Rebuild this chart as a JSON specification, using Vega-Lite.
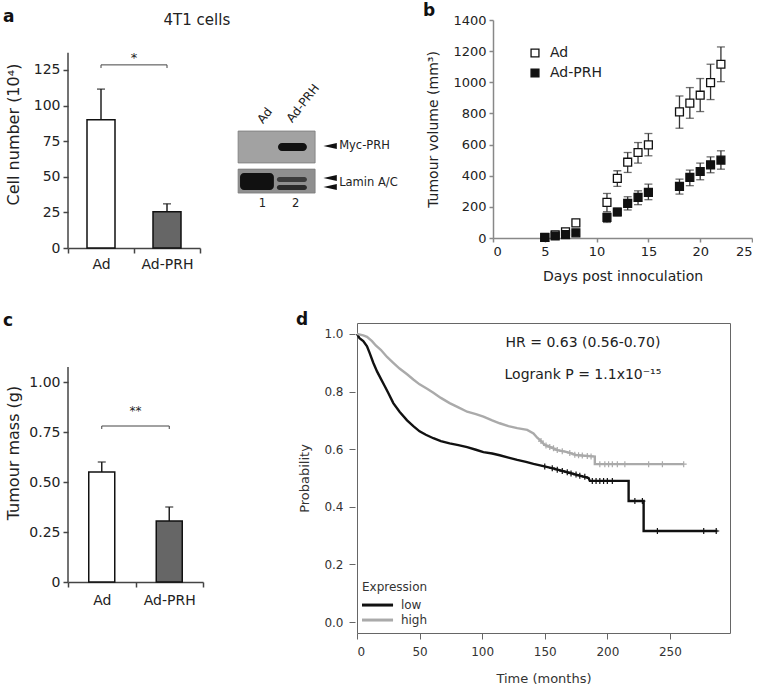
{
  "$schema": "https://vega.github.io/schema/vega-lite/v6.json",
  "background": "white",
  "padding": {"left": 3, "top": 2, "right": 0, "bottom": 0},
  "spacing": 27,
  "resolve": {"scale": {"fill": "independent", "color": "independent"}, "legend": {"fill": "independent", "color": "independent"}},
  "config": {
    "font": "DejaVu Sans",
    "view": {"stroke": null},
    "axis": {"labelFont": "DejaVu Sans", "titleFont": "DejaVu Sans", "labelColor": "#222", "titleColor": "#222", "domainColor": "#444", "tickColor": "#444", "grid": false, "titleFontWeight": "normal", "labelFontSize": 14, "titleFontSize": 16, "domainWidth": 1.5, "tickWidth": 1.5, "labelOverlap": false},
    "legend": {"labelFont": "DejaVu Sans", "titleFont": "DejaVu Sans"},
    "text": {"font": "DejaVu Sans"},
    "title": {"font": "DejaVu Sans"}
  },
  "datasets": {
    "cells": [
      {"group": "Ad", "value": 90, "err": 111.5},
      {"group": "Ad-PRH", "value": 25.5, "err": 31}
    ],
    "mass": [
      {"group": "Ad", "value": 0.55, "err": 0.6},
      {"group": "Ad-PRH", "value": 0.305, "err": 0.375}
    ],
    "volume": [
      {"group": "Ad", "day": 5, "m": 3, "lo": 0, "hi": 8},
      {"group": "Ad", "day": 6, "m": 20, "lo": 12, "hi": 28},
      {"group": "Ad", "day": 7, "m": 40, "lo": 30, "hi": 50},
      {"group": "Ad", "day": 8, "m": 97, "lo": 85, "hi": 109},
      {"group": "Ad", "day": 11, "m": 229, "lo": 169, "hi": 286},
      {"group": "Ad", "day": 12, "m": 383, "lo": 331, "hi": 432},
      {"group": "Ad", "day": 13, "m": 487, "lo": 421, "hi": 549},
      {"group": "Ad", "day": 14, "m": 549, "lo": 481, "hi": 613},
      {"group": "Ad", "day": 15, "m": 598, "lo": 528, "hi": 671},
      {"group": "Ad", "day": 18, "m": 810, "lo": 705, "hi": 912},
      {"group": "Ad", "day": 19, "m": 866, "lo": 769, "hi": 966},
      {"group": "Ad", "day": 20, "m": 917, "lo": 812, "hi": 1024},
      {"group": "Ad", "day": 21, "m": 998, "lo": 889, "hi": 1116},
      {"group": "Ad", "day": 22, "m": 1116, "lo": 1004, "hi": 1227},
      {"group": "Ad-PRH", "day": 5, "m": 4, "lo": 0, "hi": 8},
      {"group": "Ad-PRH", "day": 6, "m": 13, "lo": 5, "hi": 21},
      {"group": "Ad-PRH", "day": 7, "m": 22, "lo": 12, "hi": 32},
      {"group": "Ad-PRH", "day": 8, "m": 33, "lo": 22, "hi": 44},
      {"group": "Ad-PRH", "day": 11, "m": 133, "lo": 100, "hi": 158},
      {"group": "Ad-PRH", "day": 12, "m": 167, "lo": 143, "hi": 192},
      {"group": "Ad-PRH", "day": 13, "m": 222, "lo": 180, "hi": 265},
      {"group": "Ad-PRH", "day": 14, "m": 261, "lo": 214, "hi": 303},
      {"group": "Ad-PRH", "day": 15, "m": 293, "lo": 246, "hi": 346},
      {"group": "Ad-PRH", "day": 18, "m": 331, "lo": 282, "hi": 378},
      {"group": "Ad-PRH", "day": 19, "m": 389, "lo": 336, "hi": 436},
      {"group": "Ad-PRH", "day": 20, "m": 427, "lo": 374, "hi": 481},
      {"group": "Ad-PRH", "day": 21, "m": 470, "lo": 419, "hi": 521},
      {"group": "Ad-PRH", "day": 22, "m": 500, "lo": 442, "hi": 560}
    ],
    "km": [
      {"grp": "low", "t": 0, "p": 1.0}, {"grp": "low", "t": 2, "p": 0.985}, {"grp": "low", "t": 5, "p": 0.975},
      {"grp": "low", "t": 8, "p": 0.957}, {"grp": "low", "t": 10, "p": 0.935}, {"grp": "low", "t": 13, "p": 0.9},
      {"grp": "low", "t": 16, "p": 0.87}, {"grp": "low", "t": 19, "p": 0.845}, {"grp": "low", "t": 22, "p": 0.82},
      {"grp": "low", "t": 25, "p": 0.795}, {"grp": "low", "t": 29, "p": 0.76}, {"grp": "low", "t": 34, "p": 0.73},
      {"grp": "low", "t": 40, "p": 0.7}, {"grp": "low", "t": 45, "p": 0.68}, {"grp": "low", "t": 50, "p": 0.662},
      {"grp": "low", "t": 55, "p": 0.65}, {"grp": "low", "t": 61, "p": 0.638}, {"grp": "low", "t": 67, "p": 0.628},
      {"grp": "low", "t": 74, "p": 0.62}, {"grp": "low", "t": 81, "p": 0.614}, {"grp": "low", "t": 88, "p": 0.607},
      {"grp": "low", "t": 95, "p": 0.598}, {"grp": "low", "t": 101, "p": 0.59}, {"grp": "low", "t": 108, "p": 0.585},
      {"grp": "low", "t": 114, "p": 0.579}, {"grp": "low", "t": 121, "p": 0.571}, {"grp": "low", "t": 128, "p": 0.563},
      {"grp": "low", "t": 135, "p": 0.556}, {"grp": "low", "t": 141, "p": 0.549}, {"grp": "low", "t": 148, "p": 0.542},
      {"grp": "low", "t": 154, "p": 0.536}, {"grp": "low", "t": 161, "p": 0.528}, {"grp": "low", "t": 168, "p": 0.52},
      {"grp": "low", "t": 175, "p": 0.512}, {"grp": "low", "t": 181, "p": 0.505}, {"grp": "low", "t": 185, "p": 0.5},
      {"grp": "low", "t": 186, "p": 0.49}, {"grp": "low", "t": 217, "p": 0.49}, {"grp": "low", "t": 217.01, "p": 0.42},
      {"grp": "low", "t": 229, "p": 0.42}, {"grp": "low", "t": 229.01, "p": 0.316}, {"grp": "low", "t": 288, "p": 0.316},
      {"grp": "high", "t": 0, "p": 1.0}, {"grp": "high", "t": 5, "p": 0.995}, {"grp": "high", "t": 8, "p": 0.99},
      {"grp": "high", "t": 12, "p": 0.975}, {"grp": "high", "t": 15, "p": 0.96}, {"grp": "high", "t": 19, "p": 0.945},
      {"grp": "high", "t": 24, "p": 0.92}, {"grp": "high", "t": 29, "p": 0.9}, {"grp": "high", "t": 34, "p": 0.88},
      {"grp": "high", "t": 40, "p": 0.86}, {"grp": "high", "t": 45, "p": 0.842}, {"grp": "high", "t": 50, "p": 0.825},
      {"grp": "high", "t": 56, "p": 0.81}, {"grp": "high", "t": 61, "p": 0.796}, {"grp": "high", "t": 67, "p": 0.778},
      {"grp": "high", "t": 74, "p": 0.76}, {"grp": "high", "t": 81, "p": 0.745}, {"grp": "high", "t": 88, "p": 0.73},
      {"grp": "high", "t": 95, "p": 0.722}, {"grp": "high", "t": 101, "p": 0.713}, {"grp": "high", "t": 108, "p": 0.7},
      {"grp": "high", "t": 114, "p": 0.69}, {"grp": "high", "t": 121, "p": 0.68}, {"grp": "high", "t": 128, "p": 0.673},
      {"grp": "high", "t": 136, "p": 0.667}, {"grp": "high", "t": 141, "p": 0.655}, {"grp": "high", "t": 144, "p": 0.64},
      {"grp": "high", "t": 146, "p": 0.632}, {"grp": "high", "t": 150, "p": 0.615}, {"grp": "high", "t": 155, "p": 0.606},
      {"grp": "high", "t": 160, "p": 0.597}, {"grp": "high", "t": 168, "p": 0.59}, {"grp": "high", "t": 175, "p": 0.58},
      {"grp": "high", "t": 190, "p": 0.574}, {"grp": "high", "t": 190.01, "p": 0.548}, {"grp": "high", "t": 261, "p": 0.548}
    ],
    "censor": [
      {"grp": "low", "t": 150, "p": 0.54}, {"grp": "low", "t": 156, "p": 0.534}, {"grp": "low", "t": 160, "p": 0.529},
      {"grp": "low", "t": 164, "p": 0.524}, {"grp": "low", "t": 168, "p": 0.52}, {"grp": "low", "t": 171, "p": 0.516},
      {"grp": "low", "t": 175, "p": 0.512}, {"grp": "low", "t": 178, "p": 0.508}, {"grp": "low", "t": 182, "p": 0.504},
      {"grp": "low", "t": 188, "p": 0.49}, {"grp": "low", "t": 191, "p": 0.49}, {"grp": "low", "t": 194, "p": 0.49},
      {"grp": "low", "t": 197, "p": 0.49}, {"grp": "low", "t": 200, "p": 0.49}, {"grp": "low", "t": 204, "p": 0.49},
      {"grp": "low", "t": 222, "p": 0.42}, {"grp": "low", "t": 228, "p": 0.42}, {"grp": "low", "t": 240, "p": 0.316},
      {"grp": "low", "t": 277, "p": 0.316}, {"grp": "low", "t": 287, "p": 0.316},
      {"grp": "high", "t": 147, "p": 0.628}, {"grp": "high", "t": 151, "p": 0.613}, {"grp": "high", "t": 154, "p": 0.608},
      {"grp": "high", "t": 157, "p": 0.603}, {"grp": "high", "t": 160, "p": 0.597}, {"grp": "high", "t": 164, "p": 0.593},
      {"grp": "high", "t": 170, "p": 0.587}, {"grp": "high", "t": 174, "p": 0.581}, {"grp": "high", "t": 177, "p": 0.579},
      {"grp": "high", "t": 180, "p": 0.578}, {"grp": "high", "t": 184, "p": 0.576}, {"grp": "high", "t": 187, "p": 0.575},
      {"grp": "high", "t": 194, "p": 0.548}, {"grp": "high", "t": 198, "p": 0.548}, {"grp": "high", "t": 201, "p": 0.548},
      {"grp": "high", "t": 204, "p": 0.548}, {"grp": "high", "t": 208, "p": 0.548}, {"grp": "high", "t": 214, "p": 0.548},
      {"grp": "high", "t": 233, "p": 0.548}, {"grp": "high", "t": 244, "p": 0.548}, {"grp": "high", "t": 261, "p": 0.548}
    ],
    "blot": [
      {"part": "membrane top", "x": 10.3, "x2": 38.5, "y": 37.3, "y2": 51.3},
      {"part": "membrane bottom", "x": 10.3, "x2": 38.5, "y": 24.1, "y2": 34.6}
    ],
    "bands": [
      {"part": "Myc-PRH lane 2", "x": 24.9, "x2": 35.5, "y": 42.5, "y2": 46.1, "tone": "strong"},
      {"part": "Lamin lane 1", "x": 11.0, "x2": 23.4, "y": 25.4, "y2": 32.9, "tone": "strong"},
      {"part": "Lamin A lane 2", "x": 24.5, "x2": 35.5, "y": 28.9, "y2": 31.1, "tone": "weak"},
      {"part": "Lamin C lane 2", "x": 24.5, "x2": 35.5, "y": 25.4, "y2": 27.6, "tone": "medium"}
    ],
    "blotlabels": [
      {"label": "1", "x": 17.9, "y": 19.3},
      {"label": "2", "x": 30.0, "y": 19.3},
      {"label": "Myc-PRH", "x": 47.3, "y": 44.7},
      {"label": "Lamin A/C", "x": 47.3, "y": 28.5}
    ],
    "arrows": [
      {"target": "Myc-PRH", "x": 44.0, "y": 44.7},
      {"target": "Lamin A", "x": 44.0, "y": 30.7},
      {"target": "Lamin C", "x": 44.0, "y": 26.8}
    ],
    "lanes": [
      {"label": "Ad", "x": 20.3, "y": 53.5},
      {"label": "Ad-PRH", "x": 31.0, "y": 53.9}
    ],
    "kmlegend": [
      {"grp": "low", "p": 0.059},
      {"grp": "high", "p": 0.007}
    ]
  },
  "vconcat": [
    {
      "bounds": "flush",
      "spacing": 10,
      "resolve": {"scale": {"fill": "independent", "color": "independent"}, "legend": {"fill": "independent", "color": "independent"}},
      "hconcat": [
        {
          "width": 132,
          "height": 228,
          "title": {"text": "a", "anchor": "start", "frame": "group", "dx": -65, "offset": -19, "fontSize": 17, "fontWeight": "bold", "baseline": "alphabetic", "color": "#111"},
          "data": {"name": "cells"},
          "layer": [
            {
              "mark": {"type": "rule", "strokeWidth": 1.5, "color": "#222"},
              "encoding": {
                "x": {"field": "group", "type": "nominal", "scale": {"domain": ["Ad", "Ad-PRH"], "paddingInner": 0, "paddingOuter": 0}, "axis": {"title": null, "labelAngle": 0, "tickBand": "extent", "tickSize": 5, "labelPadding": 4, "labelFontSize": 14}},
                "y": {"field": "value", "type": "quantitative", "scale": {"domain": [0, 160], "nice": false}, "axis": {"values": [0, 25, 50, 75, 100, 125], "domain": false, "tickSize": 5, "labelPadding": 3, "title": "Cell number (10⁴)", "titleFontSize": 16, "titlePadding": 12}},
                "y2": {"field": "err"}
              }
            },
            {
              "mark": {"type": "bar", "size": 28, "stroke": "#111", "strokeWidth": 1.5},
              "encoding": {
                "x": {"field": "group", "type": "nominal"},
                "y": {"field": "value", "type": "quantitative"},
                "fill": {"field": "group", "type": "nominal", "scale": {"domain": ["Ad", "Ad-PRH"], "range": ["#ffffff", "#666666"]}, "legend": null}
              }
            },
            {
              "mark": {"type": "tick", "orient": "horizontal", "size": 8, "thickness": 1.5, "color": "#222"},
              "encoding": {
                "x": {"field": "group", "type": "nominal"},
                "y": {"field": "err", "type": "quantitative"}
              }
            },
            {
              "data": {"values": [{}]},
              "mark": {"type": "rule", "color": "#444", "strokeWidth": 1.5},
              "encoding": {
                "x": {"datum": "Ad", "bandPosition": 0},
                "y": {"datum": 0},
                "y2": {"datum": 137}
              }
            },
            {
              "data": {"values": [{}]},
              "mark": {"type": "rule", "color": "#444", "strokeWidth": 1},
              "encoding": {
                "x": {"datum": "Ad"},
                "x2": {"datum": "Ad-PRH"},
                "y": {"datum": 128.5}
              }
            },
            {
              "data": {"values": [{"g": "Ad"}, {"g": "Ad-PRH"}]},
              "mark": {"type": "rule", "color": "#444", "strokeWidth": 1},
              "encoding": {
                "x": {"field": "g", "type": "nominal"},
                "y": {"datum": 126.3},
                "y2": {"datum": 128.5}
              }
            },
            {
              "data": {"values": [{}]},
              "mark": {"type": "text", "text": "*", "fontSize": 13, "color": "#222"},
              "encoding": {
                "x": {"datum": "Ad", "bandPosition": 1},
                "y": {"datum": 133}
              }
            }
          ]
        },
        {
          "width": 273,
          "height": 228,
          "layer": [
            {
              "data": {"name": "blot"},
              "mark": {"type": "rect", "stroke": "#7a7a7a", "strokeWidth": 0.8},
              "encoding": {
                "x": {"field": "x", "type": "quantitative", "scale": {"domain": [0, 100], "nice": false}, "axis": null},
                "x2": {"field": "x2"},
                "y": {"field": "y", "type": "quantitative", "scale": {"domain": [0, 100], "nice": false}, "axis": null},
                "y2": {"field": "y2"},
                "fill": {"field": "part", "type": "nominal", "scale": {"domain": ["membrane top", "membrane bottom"], "range": ["#a2a2a2", "#8f8f8f"]}, "legend": null}
              }
            },
            {
              "data": {"name": "bands"},
              "mark": {"type": "rect", "cornerRadius": 4},
              "encoding": {
                "x": {"field": "x", "type": "quantitative"},
                "x2": {"field": "x2"},
                "y": {"field": "y", "type": "quantitative"},
                "y2": {"field": "y2"},
                "color": {"field": "tone", "type": "nominal", "scale": {"domain": ["strong", "medium", "weak"], "range": ["#111111", "#2a2a2a", "#3c3c3c"]}, "legend": null}
              }
            },
            {
              "data": {"name": "blotlabels"},
              "mark": {"type": "text", "fontSize": 11.5, "align": "left", "baseline": "middle", "color": "#222"},
              "encoding": {
                "x": {"field": "x", "type": "quantitative"},
                "y": {"field": "y", "type": "quantitative"},
                "text": {"field": "label"}
              }
            },
            {
              "data": {"name": "lanes"},
              "mark": {"type": "text", "fontSize": 12, "align": "left", "baseline": "bottom", "angle": 308, "color": "#222"},
              "encoding": {
                "x": {"field": "x", "type": "quantitative"},
                "y": {"field": "y", "type": "quantitative"},
                "text": {"field": "label"}
              }
            },
            {
              "data": {"name": "arrows"},
              "mark": {"type": "point", "shape": "M-1,0L1,-0.45L1,0.45Z", "filled": true, "color": "#111", "size": 180, "opacity": 1},
              "encoding": {
                "x": {"field": "x", "type": "quantitative"},
                "y": {"field": "y", "type": "quantitative"}
              }
            },
            {
              "data": {"values": [{}]},
              "mark": {"type": "text", "text": "4T1 cells", "fontSize": 15, "align": "center", "baseline": "middle", "color": "#222"},
              "encoding": {
                "x": {"datum": -4.8},
                "y": {"datum": 100}
              }
            }
          ]
        },
        {
          "width": 259,
          "height": 218,
          "title": {"text": "b", "anchor": "start", "frame": "group", "dx": -70, "offset": -19, "fontSize": 17, "fontWeight": "bold", "baseline": "alphabetic", "color": "#111"},
          "data": {"name": "volume"},
          "encoding": {
            "x": {"field": "day", "type": "quantitative", "scale": {"domain": [0, 25], "nice": false}, "axis": {"values": [0, 5, 10, 15, 20, 25], "title": "Days post innoculation", "titleFontSize": 14, "labelFontSize": 13, "tickSize": 4, "labelPadding": 3, "titlePadding": 11, "domainColor": "#888", "tickColor": "#888", "labelOverlap": false}}
          },
          "layer": [
            {
              "mark": {"type": "rule", "color": "#333", "strokeWidth": 1.3},
              "encoding": {
                "y": {"field": "lo", "type": "quantitative", "scale": {"domain": [0, 1400], "nice": false}, "axis": {"values": [0, 200, 400, 600, 800, 1000, 1200, 1400], "format": "d", "title": "Tumour volume (mm³)", "titleFontSize": 14, "labelFontSize": 13, "tickSize": 4, "labelPadding": 3, "titlePadding": 12, "domainColor": "#888", "tickColor": "#888", "labelOverlap": false}},
                "y2": {"field": "hi"}
              }
            },
            {
              "mark": {"type": "tick", "orient": "horizontal", "size": 8, "thickness": 1.3, "color": "#333"},
              "encoding": {
                "y": {"field": "hi", "type": "quantitative", "axis": {"values": [0, 200, 400, 600, 800, 1000, 1200, 1400], "format": "d", "title": "Tumour volume (mm³)", "labelOverlap": false}}
              }
            },
            {
              "mark": {"type": "tick", "orient": "horizontal", "size": 8, "thickness": 1.3, "color": "#333"},
              "encoding": {
                "y": {"field": "lo", "type": "quantitative", "axis": {"values": [0, 200, 400, 600, 800, 1000, 1200, 1400], "format": "d", "title": "Tumour volume (mm³)", "labelOverlap": false}}
              }
            },
            {
              "mark": {"type": "point", "shape": "square", "filled": true, "size": 62, "stroke": "#111", "strokeWidth": 1.3, "opacity": 1},
              "encoding": {
                "y": {"field": "m", "type": "quantitative", "axis": {"values": [0, 200, 400, 600, 800, 1000, 1200, 1400], "format": "d", "title": "Tumour volume (mm³)", "labelOverlap": false}},
                "fill": {"field": "group", "type": "nominal", "scale": {"domain": ["Ad", "Ad-PRH"], "range": ["#ffffff", "#111111"]},
                  "legend": {"title": null, "orient": "none", "legendX": 35, "legendY": 26, "symbolType": "square", "symbolSize": 62, "symbolStrokeColor": "#111", "symbolStrokeWidth": 1.3, "labelFontSize": 14, "labelColor": "#222", "rowPadding": 6, "labelOffset": 8}}
              }
            }
          ]
        }
      ]
    },
    {
      "bounds": "flush",
      "spacing": 154,
      "resolve": {"scale": {"fill": "independent", "color": "independent"}, "legend": {"fill": "independent", "color": "independent"}},
      "hconcat": [
        {
          "width": 135,
          "height": 259,
          "title": {"text": "c", "anchor": "start", "frame": "group", "dx": -65, "offset": -20, "fontSize": 17, "fontWeight": "bold", "baseline": "alphabetic", "color": "#111"},
          "data": {"name": "mass"},
          "layer": [
            {
              "mark": {"type": "rule", "strokeWidth": 1.5, "color": "#222"},
              "encoding": {
                "x": {"field": "group", "type": "nominal", "scale": {"domain": ["Ad", "Ad-PRH"], "paddingInner": 0, "paddingOuter": 0}, "axis": {"title": null, "labelAngle": 0, "tickBand": "extent", "tickSize": 5, "labelPadding": 6, "labelFontSize": 14}},
                "y": {"field": "value", "type": "quantitative", "scale": {"domain": [0, 1.295], "nice": false}, "axis": {"values": [0, 0.25, 0.5, 0.75, 1], "labelExpr": "datum.value == 0 ? '0' : format(datum.value, '.2f')", "domain": false, "tickSize": 5, "labelPadding": 3, "title": "Tumour mass (g)", "titleFontSize": 16, "titlePadding": 7}},
                "y2": {"field": "err"}
              }
            },
            {
              "mark": {"type": "bar", "size": 26, "stroke": "#111", "strokeWidth": 1.5},
              "encoding": {
                "x": {"field": "group", "type": "nominal"},
                "y": {"field": "value", "type": "quantitative"},
                "fill": {"field": "group", "type": "nominal", "scale": {"domain": ["Ad", "Ad-PRH"], "range": ["#ffffff", "#666666"]}, "legend": null}
              }
            },
            {
              "mark": {"type": "tick", "orient": "horizontal", "size": 8, "thickness": 1.5, "color": "#222"},
              "encoding": {
                "x": {"field": "group", "type": "nominal"},
                "y": {"field": "err", "type": "quantitative"}
              }
            },
            {
              "data": {"values": [{}]},
              "mark": {"type": "rule", "color": "#444", "strokeWidth": 1.5},
              "encoding": {
                "x": {"datum": "Ad", "bandPosition": 0},
                "y": {"datum": 0},
                "y2": {"datum": 1.075}
              }
            },
            {
              "data": {"values": [{}]},
              "mark": {"type": "rule", "color": "#444", "strokeWidth": 1},
              "encoding": {
                "x": {"datum": "Ad"},
                "x2": {"datum": "Ad-PRH"},
                "y": {"datum": 0.78}
              }
            },
            {
              "data": {"values": [{"g": "Ad"}, {"g": "Ad-PRH"}]},
              "mark": {"type": "rule", "color": "#444", "strokeWidth": 1},
              "encoding": {
                "x": {"field": "g", "type": "nominal"},
                "y": {"datum": 0.765},
                "y2": {"datum": 0.78}
              }
            },
            {
              "data": {"values": [{}]},
              "mark": {"type": "text", "text": "**", "fontSize": 12, "color": "#222"},
              "encoding": {
                "x": {"datum": "Ad", "bandPosition": 1},
                "y": {"datum": 0.855}
              }
            }
          ]
        },
        {
          "width": 373,
          "height": 310,
          "view": {"stroke": "#666", "strokeWidth": 1},
          "title": {"text": "d", "anchor": "start", "frame": "group", "dx": -61, "offset": -19, "fontSize": 17, "fontWeight": "bold", "baseline": "alphabetic", "color": "#111"},
          "layer": [
            {
              "data": {"name": "km"},
              "mark": {"type": "line", "strokeWidth": 2.4},
              "encoding": {
                "x": {"field": "t", "type": "quantitative", "scale": {"domain": [0, 298], "nice": false}, "axis": {"values": [0, 50, 100, 150, 200, 250], "title": "Time (months)", "titleFontSize": 13, "labelFontSize": 12, "domain": false, "tickSize": 6, "tickWidth": 1, "tickColor": "#666", "labelColor": "#333", "titleColor": "#333", "labelPadding": 7, "titlePadding": 15}},
                "y": {"field": "p", "type": "quantitative", "scale": {"domain": [-0.038, 1.038], "nice": false}, "axis": {"values": [0, 0.2, 0.4, 0.6, 0.8, 1.0], "format": ".1f", "title": "Probability", "titleFontSize": 13, "labelFontSize": 12, "domain": false, "offset": 2, "tickSize": 6, "tickWidth": 1, "tickColor": "#666", "labelColor": "#333", "titleColor": "#333", "labelPadding": 6, "titlePadding": 12}},
                "color": {"field": "grp", "type": "nominal", "scale": {"domain": ["low", "high"], "range": ["#111111", "#aaaaaa"]}, "legend": null},
                "order": {"field": "t", "type": "quantitative"}
              }
            },
            {
              "data": {"name": "censor"},
              "mark": {"type": "point", "shape": "M-1,0L1,0M0,-1L0,1", "filled": false, "size": 36, "strokeWidth": 1.2, "opacity": 1},
              "encoding": {
                "x": {"field": "t", "type": "quantitative"},
                "y": {"field": "p", "type": "quantitative"},
                "color": {"field": "grp", "type": "nominal"}
              }
            },
            {
              "data": {"name": "kmlegend"},
              "mark": {"type": "rule", "strokeWidth": 3},
              "encoding": {
                "x": {"datum": 4},
                "x2": {"datum": 28.8},
                "y": {"field": "p", "type": "quantitative"},
                "color": {"field": "grp", "type": "nominal"}
              }
            },
            {
              "data": {"name": "kmlegend"},
              "mark": {"type": "text", "fontSize": 12, "color": "#333", "align": "left", "baseline": "middle"},
              "encoding": {
                "x": {"datum": 35.1},
                "y": {"field": "p", "type": "quantitative"},
                "text": {"field": "grp"}
              }
            },
            {
              "data": {"values": [{}]},
              "mark": {"type": "text", "text": "Expression", "fontSize": 12, "color": "#333", "align": "left", "baseline": "middle"},
              "encoding": {"x": {"datum": 4}, "y": {"datum": 0.122}}
            },
            {
              "data": {"values": [{}]},
              "mark": {"type": "text", "text": "HR = 0.63 (0.56-0.70)", "fontSize": 14, "color": "#222", "align": "center", "baseline": "middle"},
              "encoding": {"x": {"datum": 180.5}, "y": {"datum": 0.969}}
            },
            {
              "data": {"values": [{}]},
              "mark": {"type": "text", "text": "Logrank P = 1.1x10⁻¹⁵", "fontSize": 14, "color": "#222", "align": "center", "baseline": "middle"},
              "encoding": {"x": {"datum": 180.5}, "y": {"datum": 0.858}}
            }
          ]
        }
      ]
    }
  ]
}
